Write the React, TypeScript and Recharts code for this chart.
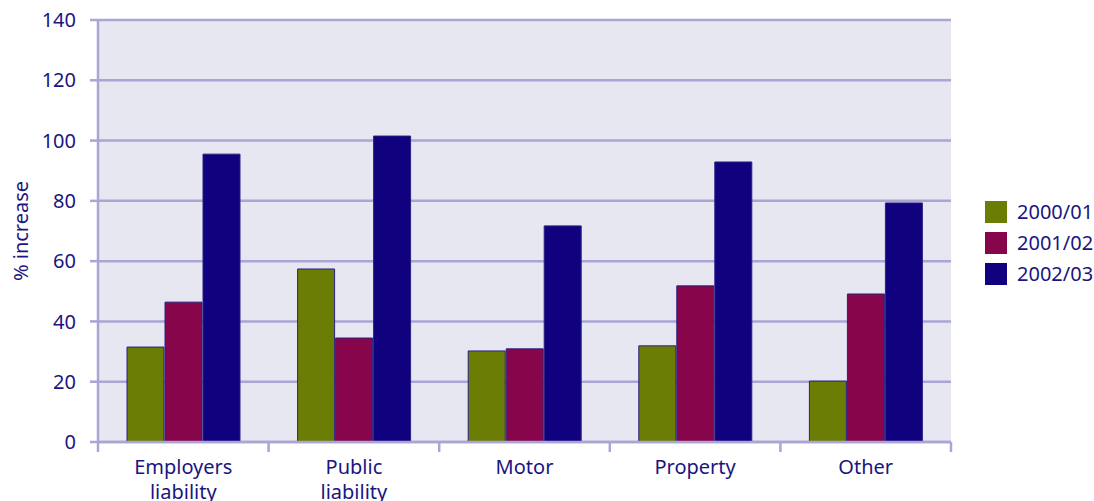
import React from 'react';
import { BarChart, Bar, XAxis, YAxis, CartesianGrid, Label } from 'recharts';

const categories = ['Employers liability', 'Public liability', 'Motor', 'Property', 'Other'];
const series2000 = [31.5, 57.4, 30.2, 31.9, 20.2];
const series2001 = [46.4, 34.5, 30.9, 51.8, 49.1];
const series2002 = [95.5, 101.5, 71.7, 92.9, 79.3];
const seriesNames = ['2000/01', '2001/02', '2002/03'];
const yTicks = [0, 20, 40, 60, 80, 100, 120, 140];

const colors = ['#6b7d05', '#87054a', '#10027f'];
const textColor = '#1a1580';
const gridColor = '#a9a5d4';
const font = '"Noto Sans", "Open Sans", sans-serif';

const data = categories.map((c, i) => ({
  name: c,
  s0: series2000[i],
  s1: series2001[i],
  s2: series2002[i],
}));

const XTick = (props: any) => {
  const { x, y, payload, index, width, visibleTicksCount } = props;
  const bw = width / visibleTicksCount;
  const words = String(payload.value).split(' ');
  return (
    <g>
      <line x1={x - bw / 2} y1={y - 8} x2={x - bw / 2} y2={y + 2} stroke={gridColor} strokeWidth={2.5} />
      {index === visibleTicksCount - 1 && (
        <line x1={x + bw / 2} y1={y - 8} x2={x + bw / 2} y2={y + 2} stroke={gridColor} strokeWidth={2.5} />
      )}
      <text x={x} y={y + 24} textAnchor="middle" fill={textColor} fontSize={20} fontFamily={font}>
        {words.map((w, i) => (
          <tspan key={i} x={x} dy={i === 0 ? 0 : 25}>{w}</tspan>
        ))}
      </text>
    </g>
  );
};

export default function App() {
  return (
    <div style={{ position: 'absolute', left: 0, top: 0, width: 1094, height: 501, background: '#fff' }}>
      <BarChart
        width={1094}
        height={501}
        data={data}
        margin={{ top: 20, right: 143, bottom: 0, left: 0 }}
        barCategoryGap="17%"
        barGap={1}
      >
        <CartesianGrid vertical={false} stroke={gridColor} strokeWidth={2.5} fill="#e7e7f2" />
        <XAxis
          dataKey="name"
          height={59}
          axisLine={{ stroke: gridColor, strokeWidth: 2.5 }}
          tickLine={false}
          tick={<XTick />}
          interval={0}
        />
        <YAxis
          width={98}
          domain={[0, 140]}
          ticks={yTicks}
          interval={0}
          axisLine={{ stroke: gridColor, strokeWidth: 2.5 }}
          tickLine={{ stroke: gridColor, strokeWidth: 2.5 }}
          tickSize={8}
          tickMargin={14}
          tick={{ fill: textColor, fontSize: 20, fontFamily: font }}
        >
          <Label
            content={(p: any) => {
              const vb = p.viewBox;
              const cx = 20;
              const cy = vb.y + vb.height / 2;
              return (
                <text x={cx} y={cy} transform={`rotate(-90 ${cx} ${cy})`} textAnchor="middle" dominantBaseline="central" fill={textColor} fontSize={20} fontFamily={font}>
                  % increase
                </text>
              );
            }}
          />
        </YAxis>
        <Bar dataKey="s0" name={seriesNames[0]} fill={colors[0]} stroke="#2b2080" strokeWidth={1} isAnimationActive={false} />
        <Bar dataKey="s1" name={seriesNames[1]} fill={colors[1]} stroke="#2b2080" strokeWidth={1} isAnimationActive={false} />
        <Bar dataKey="s2" name={seriesNames[2]} fill={colors[2]} stroke="#2b2080" strokeWidth={1} isAnimationActive={false} />
      </BarChart>
      <div style={{ position: 'absolute', left: 985, top: 196, fontFamily: font }}>
        {seriesNames.map((n, i) => (
          <div key={n} style={{ display: 'flex', alignItems: 'center', height: 31 }}>
            <div style={{ width: 22, height: 22, background: colors[i], marginRight: 10 }} />
            <span style={{ color: textColor, fontSize: 20 }}>{n}</span>
          </div>
        ))}
      </div>
    </div>
  );
}
